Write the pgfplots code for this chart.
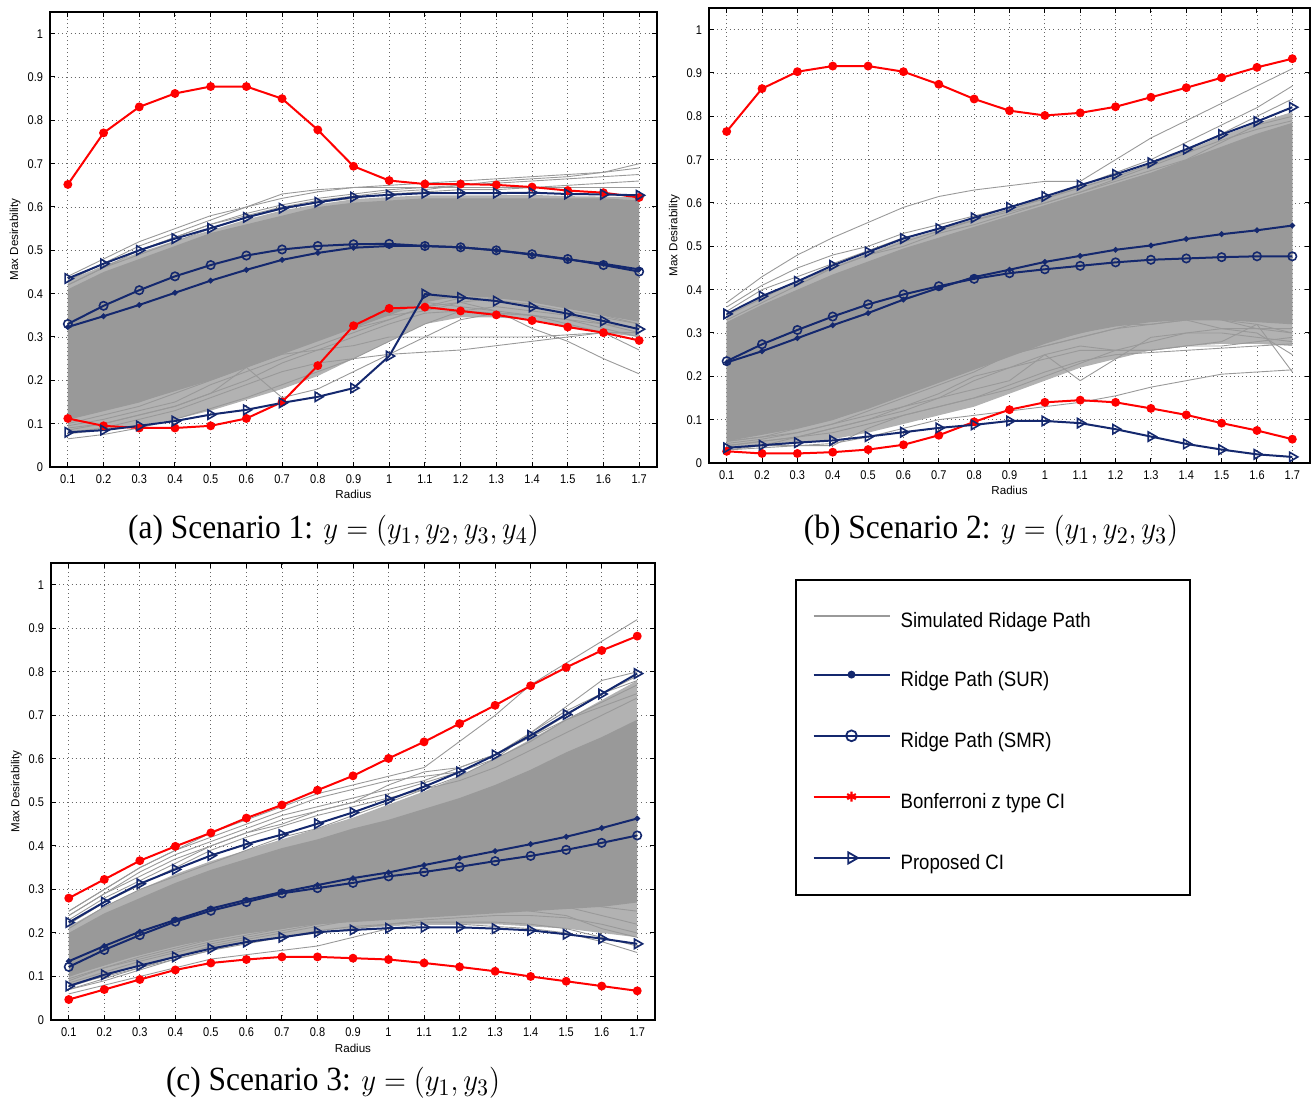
\documentclass[border=0pt]{standalone}
\usepackage[no-math]{fontspec}
\setmainfont{Liberation Sans}
\newfontfamily\capfont{Liberation Serif}
\usepackage{graphicx}
\usepackage{pgfplots}
\usepackage{pgfplotstable}
\pgfplotsset{compat=1.18}
\usepgfplotslibrary{fillbetween}

\definecolor{navy}{RGB}{20,40,110}
\definecolor{simgray}{RGB}{153,153,153}
\definecolor{simlight}{RGB}{178,178,178}
\newcommand{\sv}[1]{\scalebox{1}[1.15]{#1}}
\newcommand{\stl}[1]{\scalebox{1}[1.12]{#1}}
\newcommand{\stc}[1]{\scalebox{1}[1.08]{#1}}

% ---------------- main series: x SUR SMR BonfUpper BonfLower PropUpper PropLower
\pgfplotstableread{
x sur smr bu bl pu pl
0.1 0.323 0.330 0.652 0.112 0.435 0.080
0.2 0.348 0.372 0.771 0.095 0.469 0.085
0.3 0.374 0.408 0.831 0.090 0.500 0.095
0.4 0.402 0.440 0.862 0.090 0.527 0.106
0.5 0.430 0.466 0.878 0.095 0.551 0.121
0.6 0.455 0.488 0.878 0.112 0.576 0.132
0.7 0.478 0.502 0.850 0.150 0.597 0.148
0.8 0.494 0.510 0.778 0.234 0.611 0.162
0.9 0.506 0.514 0.694 0.326 0.623 0.182
1.0 0.510 0.515 0.661 0.366 0.628 0.256
1.1 0.510 0.510 0.653 0.369 0.632 0.399
1.2 0.507 0.507 0.653 0.360 0.632 0.391
1.3 0.500 0.500 0.651 0.351 0.632 0.383
1.4 0.490 0.491 0.646 0.338 0.633 0.369
1.5 0.479 0.480 0.638 0.323 0.630 0.354
1.6 0.469 0.466 0.633 0.310 0.629 0.337
1.7 0.456 0.451 0.622 0.292 0.627 0.318
}\mainA
\pgfplotstableread{
x sur smr bu bl pu pl
0.1 0.232 0.235 0.765 0.027 0.344 0.035
0.2 0.258 0.274 0.864 0.022 0.385 0.041
0.3 0.288 0.307 0.903 0.022 0.419 0.047
0.4 0.318 0.338 0.916 0.025 0.456 0.052
0.5 0.346 0.366 0.916 0.031 0.487 0.061
0.6 0.377 0.389 0.903 0.042 0.518 0.071
0.7 0.404 0.408 0.874 0.064 0.541 0.081
0.8 0.429 0.425 0.840 0.095 0.566 0.088
0.9 0.446 0.438 0.813 0.123 0.590 0.097
1.0 0.464 0.447 0.802 0.140 0.615 0.097
1.1 0.478 0.455 0.808 0.145 0.641 0.092
1.2 0.492 0.463 0.822 0.140 0.666 0.078
1.3 0.502 0.469 0.844 0.126 0.693 0.061
1.4 0.517 0.472 0.866 0.111 0.724 0.044
1.5 0.528 0.475 0.889 0.092 0.758 0.031
1.6 0.537 0.477 0.913 0.075 0.788 0.020
1.7 0.548 0.477 0.933 0.055 0.821 0.014
}\mainB
\pgfplotstableread{
x sur smr bu bl pu pl
0.1 0.135 0.122 0.280 0.047 0.224 0.078
0.2 0.170 0.161 0.323 0.070 0.271 0.104
0.3 0.203 0.195 0.366 0.093 0.313 0.125
0.4 0.230 0.226 0.399 0.115 0.346 0.145
0.5 0.256 0.251 0.430 0.131 0.378 0.164
0.6 0.276 0.271 0.464 0.139 0.404 0.179
0.7 0.294 0.291 0.494 0.145 0.426 0.190
0.8 0.310 0.303 0.528 0.145 0.451 0.202
0.9 0.326 0.315 0.561 0.142 0.477 0.207
1.0 0.339 0.330 0.601 0.139 0.506 0.211
1.1 0.356 0.340 0.639 0.131 0.536 0.213
1.2 0.372 0.352 0.681 0.122 0.570 0.213
1.3 0.388 0.365 0.723 0.112 0.609 0.210
1.4 0.404 0.377 0.768 0.100 0.654 0.206
1.5 0.421 0.391 0.810 0.089 0.702 0.197
1.6 0.441 0.407 0.849 0.078 0.749 0.187
1.7 0.463 0.424 0.882 0.067 0.796 0.175
}\mainC

% ---------------- simulated paths: x, sparse-zone low, dense low, dense high, sparse-zone high, 15 individual paths
\pgfplotstableread{
x lo2 lo hi hi2 g1 g2 g3 g4 g5 g6 g7 g8 g9 g10 g11 g12 g13 g14 g15
0.1 0.075 0.11 0.41 0.43 0.44 0.43 0.42 0.43 0.42 0.065 0.09 0.10 0.11 0.08 0.12 0.13 0.095 0.14 0.085
0.2 0.085 0.13 0.45 0.465 0.48 0.47 0.46 0.47 0.46 0.075 0.10 0.12 0.13 0.09 0.14 0.15 0.11 0.16 0.10
0.3 0.095 0.15 0.48 0.495 0.52 0.51 0.50 0.50 0.49 0.09 0.12 0.14 0.15 0.11 0.17 0.18 0.13 0.19 0.12
0.4 0.11 0.175 0.51 0.522 0.55 0.54 0.53 0.53 0.52 0.11 0.14 0.17 0.18 0.13 0.20 0.21 0.15 0.23 0.14
0.5 0.13 0.20 0.54 0.546 0.58 0.57 0.56 0.56 0.55 0.135 0.17 0.20 0.21 0.16 0.23 0.24 0.19 0.26 0.17
0.6 0.155 0.23 0.56 0.571 0.60 0.60 0.58 0.585 0.575 0.16 0.23 0.23 0.24 0.19 0.26 0.27 0.22 0.29 0.20
0.7 0.18 0.26 0.58 0.592 0.62 0.63 0.60 0.605 0.595 0.19 0.16 0.26 0.27 0.22 0.29 0.30 0.25 0.32 0.24
0.8 0.21 0.29 0.60 0.606 0.635 0.64 0.615 0.62 0.61 0.22 0.18 0.27 0.30 0.24 0.32 0.33 0.28 0.35 0.27
0.9 0.25 0.32 0.61 0.618 0.645 0.645 0.625 0.63 0.62 0.25 0.22 0.28 0.32 0.25 0.35 0.34 0.31 0.37 0.30
1.0 0.29 0.35 0.615 0.623 0.65 0.645 0.635 0.64 0.63 0.29 0.26 0.30 0.34 0.26 0.37 0.35 0.34 0.385 0.33
1.1 0.33 0.38 0.62 0.627 0.655 0.645 0.64 0.645 0.635 0.33 0.30 0.30 0.37 0.265 0.38 0.36 0.37 0.39 0.355
1.2 0.345 0.395 0.62 0.627 0.66 0.645 0.65 0.65 0.64 0.36 0.34 0.30 0.38 0.27 0.37 0.38 0.39 0.39 0.36
1.3 0.345 0.39 0.62 0.627 0.665 0.645 0.655 0.66 0.64 0.37 0.355 0.30 0.36 0.28 0.36 0.39 0.395 0.385 0.355
1.4 0.34 0.38 0.62 0.628 0.67 0.645 0.66 0.665 0.645 0.36 0.35 0.30 0.32 0.29 0.35 0.385 0.39 0.375 0.35
1.5 0.325 0.365 0.62 0.625 0.675 0.645 0.665 0.67 0.65 0.35 0.34 0.305 0.29 0.30 0.33 0.37 0.38 0.36 0.34
1.6 0.31 0.35 0.62 0.624 0.68 0.645 0.67 0.68 0.655 0.33 0.32 0.31 0.25 0.31 0.31 0.35 0.36 0.345 0.33
1.7 0.30 0.335 0.615 0.622 0.70 0.645 0.675 0.69 0.66 0.31 0.30 0.31 0.215 0.31 0.27 0.33 0.34 0.33 0.32
}\grayA
\pgfplotstableread{
x lo2 lo hi hi2 g1 g2 g3 g4 g5 g6 g7 g8 g9 g10 g11 g12 g13 g14 g15
0.1 0.035 0.05 0.325 0.341 0.37 0.36 0.35 0.34 0.33 0.03 0.035 0.04 0.05 0.045 0.06 0.04 0.05 0.07 0.03
0.2 0.04 0.065 0.365 0.382 0.43 0.41 0.40 0.38 0.37 0.035 0.04 0.05 0.06 0.055 0.07 0.05 0.06 0.09 0.04
0.3 0.045 0.08 0.40 0.416 0.48 0.45 0.43 0.42 0.41 0.04 0.04 0.06 0.07 0.07 0.09 0.06 0.08 0.11 0.06
0.4 0.055 0.10 0.435 0.453 0.52 0.48 0.46 0.45 0.45 0.045 0.04 0.08 0.09 0.09 0.11 0.08 0.10 0.14 0.07
0.5 0.07 0.125 0.465 0.484 0.555 0.50 0.49 0.48 0.48 0.06 0.08 0.10 0.11 0.12 0.14 0.10 0.13 0.17 0.09
0.6 0.09 0.155 0.495 0.515 0.59 0.53 0.52 0.51 0.50 0.08 0.11 0.13 0.13 0.15 0.17 0.12 0.16 0.20 0.11
0.7 0.11 0.185 0.52 0.538 0.615 0.55 0.54 0.535 0.53 0.10 0.13 0.15 0.16 0.18 0.20 0.15 0.19 0.23 0.13
0.8 0.13 0.215 0.545 0.563 0.63 0.57 0.56 0.56 0.55 0.11 0.15 0.17 0.20 0.21 0.23 0.19 0.22 0.26 0.15
0.9 0.16 0.245 0.57 0.587 0.64 0.59 0.585 0.58 0.575 0.12 0.18 0.19 0.22 0.25 0.25 0.22 0.25 0.29 0.17
1.0 0.19 0.275 0.595 0.612 0.65 0.61 0.61 0.60 0.60 0.13 0.21 0.25 0.24 0.28 0.27 0.25 0.27 0.31 0.20
1.1 0.22 0.30 0.62 0.638 0.65 0.64 0.635 0.625 0.625 0.14 0.235 0.19 0.26 0.30 0.29 0.27 0.29 0.32 0.23
1.2 0.24 0.315 0.645 0.663 0.70 0.67 0.66 0.65 0.655 0.155 0.25 0.24 0.26 0.32 0.31 0.26 0.31 0.33 0.26
1.3 0.26 0.325 0.67 0.69 0.75 0.70 0.69 0.675 0.685 0.175 0.255 0.29 0.26 0.32 0.32 0.26 0.33 0.34 0.28
1.4 0.27 0.33 0.70 0.72 0.79 0.74 0.72 0.70 0.715 0.19 0.26 0.30 0.27 0.33 0.33 0.27 0.34 0.35 0.30
1.5 0.275 0.33 0.73 0.755 0.83 0.78 0.76 0.74 0.745 0.205 0.265 0.30 0.28 0.31 0.33 0.27 0.33 0.35 0.31
1.6 0.275 0.325 0.76 0.785 0.87 0.82 0.80 0.78 0.77 0.21 0.27 0.29 0.32 0.30 0.32 0.28 0.31 0.34 0.31
1.7 0.27 0.32 0.785 0.81 0.91 0.87 0.84 0.80 0.79 0.215 0.275 0.28 0.21 0.25 0.30 0.29 0.30 0.33 0.31
}\grayB
\pgfplotstableread{
x lo2 lo hi hi2 g1 g2 g3 g4 g5 g6 g7 g8 g9 g10 g11 g12 g13 g14 g15
0.1 0.075 0.10 0.20 0.215 0.25 0.25 0.24 0.23 0.22 0.24 0.06 0.07 0.08 0.085 0.09 0.10 0.07 0.095 0.21
0.2 0.10 0.125 0.245 0.26 0.30 0.30 0.29 0.28 0.27 0.29 0.08 0.09 0.10 0.11 0.12 0.13 0.095 0.12 0.26
0.3 0.125 0.15 0.28 0.30 0.35 0.35 0.34 0.32 0.31 0.33 0.10 0.115 0.12 0.135 0.14 0.15 0.12 0.145 0.30
0.4 0.145 0.17 0.315 0.335 0.39 0.39 0.38 0.36 0.35 0.37 0.12 0.14 0.145 0.155 0.16 0.17 0.14 0.165 0.33
0.5 0.165 0.185 0.345 0.365 0.43 0.42 0.41 0.40 0.39 0.40 0.14 0.16 0.17 0.175 0.18 0.19 0.16 0.185 0.36
0.6 0.18 0.20 0.37 0.39 0.46 0.45 0.44 0.43 0.42 0.43 0.15 0.18 0.185 0.19 0.195 0.20 0.175 0.20 0.39
0.7 0.19 0.21 0.395 0.415 0.49 0.48 0.47 0.45 0.445 0.46 0.16 0.19 0.20 0.205 0.21 0.215 0.19 0.21 0.42
0.8 0.205 0.22 0.415 0.44 0.52 0.51 0.49 0.48 0.47 0.48 0.17 0.205 0.215 0.22 0.225 0.23 0.20 0.225 0.44
0.9 0.21 0.225 0.44 0.465 0.54 0.53 0.51 0.50 0.49 0.50 0.19 0.215 0.23 0.23 0.235 0.24 0.21 0.24 0.47
1.0 0.215 0.23 0.46 0.495 0.56 0.55 0.53 0.52 0.51 0.54 0.21 0.22 0.24 0.24 0.245 0.25 0.22 0.25 0.50
1.1 0.22 0.235 0.485 0.525 0.58 0.56 0.55 0.545 0.53 0.57 0.22 0.225 0.25 0.25 0.255 0.26 0.23 0.26 0.53
1.2 0.22 0.24 0.51 0.56 0.64 0.57 0.58 0.57 0.56 0.58 0.22 0.225 0.26 0.25 0.265 0.27 0.235 0.275 0.55
1.3 0.22 0.245 0.54 0.60 0.70 0.60 0.61 0.61 0.60 0.61 0.215 0.225 0.26 0.26 0.27 0.28 0.24 0.29 0.58
1.4 0.215 0.25 0.575 0.645 0.77 0.66 0.65 0.66 0.64 0.65 0.21 0.22 0.25 0.27 0.27 0.28 0.24 0.30 0.62
1.5 0.21 0.255 0.615 0.69 0.82 0.72 0.70 0.71 0.69 0.69 0.20 0.21 0.24 0.26 0.27 0.28 0.235 0.31 0.66
1.6 0.20 0.26 0.65 0.735 0.87 0.78 0.75 0.75 0.73 0.72 0.18 0.19 0.21 0.24 0.26 0.285 0.22 0.31 0.70
1.7 0.19 0.27 0.69 0.78 0.92 0.80 0.79 0.78 0.77 0.75 0.155 0.17 0.19 0.22 0.25 0.29 0.20 0.30 0.74
}\grayC

\pgfplotsset{
  panel/.style={
    scale only axis,
    xmin=0.05, xmax=1.75, ymin=0, ymax=1.05,
    xtick={0.1,0.2,0.3,0.4,0.5,0.6,0.7,0.8,0.9,1,1.1,1.2,1.3,1.4,1.5,1.6,1.7},
    xticklabels={\sv{0.1},\sv{0.2},\sv{0.3},\sv{0.4},\sv{0.5},\sv{0.6},\sv{0.7},\sv{0.8},\sv{0.9},\sv{1},\sv{1.1},\sv{1.2},\sv{1.3},\sv{1.4},\sv{1.5},\sv{1.6},\sv{1.7}},
    ytick={0,0.1,0.2,0.3,0.4,0.5,0.6,0.7,0.8,0.9,1},
    yticklabels={\sv{0},\sv{0.1},\sv{0.2},\sv{0.3},\sv{0.4},\sv{0.5},\sv{0.6},\sv{0.7},\sv{0.8},\sv{0.9},\sv{1}},
    grid=major,
    grid style={dash pattern=on 0.45pt off 1.6pt, black!60, line width=0.4pt},
    tick align=inside,
    major tick length=2.5pt,
    axis line style={line width=0.7pt},
    tick style={black, line width=0.5pt},
    tick label style={font=\fontsize{5.5}{6}\selectfont},
    label style={font=\fontsize{5.8}{6}\selectfont},
    xlabel={Radius}, ylabel={Max Desirability},
    /pgf/number format/assume math mode=true,
    xticklabel style={yshift=-0.5pt},
    xlabel style={at={(axis description cs:0.5,-0.061)}, anchor=center},
    ylabel style={at={(axis description cs:-0.0575,0.5)}, anchor=center},
  },
  gl/.style={simgray, line width=0.45pt, no markers, forget plot},
  sur/.style={navy, line width=1pt, mark=*, mark size=0.85pt},
  smr/.style={navy, line width=1pt, mark=o, mark size=2.1pt, mark options={line width=0.8pt}},
  bonf/.style={red, line width=1pt, mark=*, mark size=1.7pt},
  prop/.style={navy, line width=1pt, mark=triangle, mark size=2.7pt, mark options={rotate=-90, line width=0.8pt}},
}

\newcommand{\panelplots}[2]{%
  \addplot[draw=none, name path=loo, forget plot] table[x index=0, y index=1]{#1};
  \addplot[draw=none, name path=lo, forget plot] table[x index=0, y index=2]{#1};
  \addplot[draw=none, name path=hi, forget plot] table[x index=0, y index=3]{#1};
  \addplot[draw=none, name path=hii, forget plot] table[x index=0, y index=4]{#1};
  \addplot[fill=simlight, draw=none, forget plot] fill between[of=loo and hii];
  \addplot[fill=simgray, draw=none, forget plot] fill between[of=lo and hi];
  \pgfplotsinvokeforeach{5,...,19}{\addplot[gl] table[x index=0, y index=##1]{#1};}
  \addplot[sur] table[x=x, y=sur]{#2};
  \addplot[smr] table[x=x, y=smr]{#2};
  \addplot[bonf] table[x=x, y=bu]{#2};
  \addplot[bonf] table[x=x, y=bl]{#2};
  \addplot[prop] table[x=x, y=pu]{#2};
  \addplot[prop] table[x=x, y=pl]{#2};
}

\begin{document}
\begin{tikzpicture}

% (a)
\begin{axis}[panel, at={(25pt,319pt)}, anchor=south west, width=303.5pt, height=227.5pt]
\panelplots{\grayA}{\mainA}
\end{axis}

% (b)
\begin{axis}[panel, at={(354.5pt,321pt)}, anchor=south west, width=300.5pt, height=227.5pt]
\panelplots{\grayB}{\mainB}
\end{axis}

% (c)
\begin{axis}[panel, at={(25.5pt,42.5pt)}, anchor=south west, width=302pt, height=228.5pt]
\panelplots{\grayC}{\mainC}
\end{axis}

% legend box
\begin{axis}[at={(398pt,105pt)}, anchor=south west, scale only axis,
  width=197pt, height=157.5pt, xmin=0, xmax=1, ymin=0, ymax=1,
  xtick=\empty, ytick=\empty, axis line style={line width=0.6pt},
  legend cell align=left,
  legend image code/.code={\draw[mark repeat=2,mark phase=2,#1] plot coordinates {(0pt,3.2pt) (19pt,3.2pt) (38pt,3.2pt)};},
  legend style={at={(0,1)}, anchor=north west, xshift=8pt, yshift=-16.5pt,
    draw=none, fill=none, font=\fontsize{9.3}{11}\selectfont,
    row sep=20.2pt, inner sep=0pt,
    nodes={inner sep=0pt, text height=7pt, text depth=2pt},
    /tikz/every odd column/.append style={column sep=5pt}}]
\addlegendimage{simgray, line width=1.1pt}
\addlegendentry{\stl{Simulated Ridage Path}}
\addlegendimage{navy, line width=1.1pt, mark=*, mark size=1.4pt}
\addlegendentry{\stl{Ridge Path (SUR)}}
\addlegendimage{navy, line width=1.1pt, mark=o, mark size=2.7pt, mark options={line width=0.9pt}}
\addlegendentry{\stl{Ridge Path (SMR)}}
\addlegendimage{red, line width=1.1pt, mark=asterisk, mark size=2.5pt}
\addlegendentry{\stl{Bonferroni z type CI}}
\addlegendimage{navy, line width=1.1pt, mark=triangle, mark size=3.2pt, mark options={rotate=-90, line width=0.9pt}}
\addlegendentry{\stl{Proposed CI}}
\end{axis}

% captions
\node[font=\capfont\fontsize{15.7}{18}\selectfont] at (166.75pt,287pt)
  {\stc{(a) Scenario 1: $y=(y_1,y_2,y_3,y_4)$}};
\node[font=\capfont\fontsize{15.7}{18}\selectfont] at (495.5pt,287pt)
  {\stc{(b) Scenario 2: $y=(y_1,y_2,y_3)$}};
\node[font=\capfont\fontsize{15.7}{18}\selectfont] at (166.5pt,11pt)
  {\stc{(c) Scenario 3: $y=(y_1,y_3)$}};

\pgfresetboundingbox
\path[use as bounding box] (0,0) rectangle (656pt,552.5pt);
\end{tikzpicture}
\end{document}
